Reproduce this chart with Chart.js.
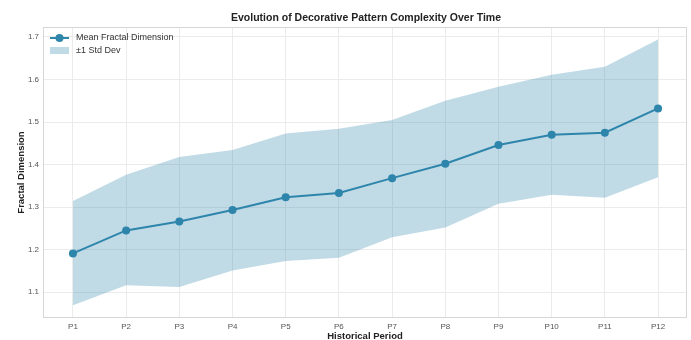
<!DOCTYPE html>
<html>
<head>
<meta charset="utf-8">
<script src="https://cdn.jsdelivr.net/npm/chart.js@4"></script>
<style>
  html, body { margin: 0; padding: 0; background: #fff; }
  #wrap { width: 691px; height: 340px; }
</style>
</head>
<body>
<div id="wrap"><canvas id="chart" width="691" height="340"></canvas></div>
<script>
// chart data
const periods = ["P1", "P2", "P3", "P4", "P5", "P6", "P7", "P8", "P9", "P10", "P11", "P12"];
const meanValues = [1.191, 1.245, 1.266, 1.293, 1.323, 1.333, 1.368, 1.402, 1.446, 1.470, 1.475, 1.532];
const upperValues = [1.314, 1.376, 1.418, 1.434, 1.473, 1.484, 1.505, 1.550, 1.583, 1.611, 1.630, 1.694];
const lowerValues = [1.069, 1.116, 1.112, 1.151, 1.173, 1.181, 1.229, 1.252, 1.308, 1.329, 1.322, 1.370];
const yTicks = [1.1, 1.2, 1.3, 1.4, 1.5, 1.6, 1.7];

const FONT = "'Liberation Sans', Arial, sans-serif";
const lineColor = "#2E86AB";
const bandColor = "rgba(46, 134, 171, 0.3)";

const toPoints = (vals) => vals.map((v, i) => ({ x: i + 1, y: v }));

// title, axis titles, plot frame and legend drawn by hand
const decorations = {
  id: "decorations",
  beforeDatasetsDraw(chart) {
    const { ctx, chartArea: a } = chart;
    ctx.save();
    ctx.strokeStyle = "#d6d6d6";
    ctx.lineWidth = 1;
    ctx.strokeRect(a.left + 0.5, a.top + 0.5, a.right - a.left - 1, a.bottom - a.top - 1);
    ctx.restore();
  },
  afterDraw(chart) {
    const { ctx, chartArea: a } = chart;
    ctx.save();
    ctx.fillStyle = "#222";
    ctx.textAlign = "center";
    ctx.textBaseline = "middle";
    ctx.font = "bold 10.5px " + FONT;
    ctx.fillText("Evolution of Decorative Pattern Complexity Over Time", 366, 18);

    ctx.font = "bold 9.5px " + FONT;
    ctx.fillText("Historical Period", (a.left + a.right) / 2, 336);
    ctx.save();
    ctx.translate(21, (a.top + a.bottom) / 2);
    ctx.rotate(-Math.PI / 2);
    ctx.fillText("Fractal Dimension", 0, 0);
    ctx.restore();

    // legend
    const lx = a.left + 7, ly = a.top + 11;
    ctx.strokeStyle = lineColor;
    ctx.lineWidth = 2;
    ctx.beginPath();
    ctx.moveTo(lx, ly);
    ctx.lineTo(lx + 19, ly);
    ctx.stroke();
    ctx.fillStyle = lineColor;
    ctx.beginPath();
    ctx.arc(lx + 9.5, ly, 4, 0, Math.PI * 2);
    ctx.fill();
    ctx.fillStyle = bandColor;
    ctx.fillRect(lx, ly + 9, 19, 7);
    ctx.fillStyle = "#333";
    ctx.font = "9px " + FONT;
    ctx.textAlign = "left";
    ctx.fillText("Mean Fractal Dimension", lx + 26, ly);
    ctx.fillText("\u00b11 Std Dev", lx + 26, ly + 13);
    ctx.restore();
  }
};

new Chart(document.getElementById("chart"), {
  type: "line",
  data: {
    datasets: [
      {
        label: "upper",
        data: toPoints(upperValues),
        borderWidth: 0,
        pointRadius: 0,
        backgroundColor: bandColor,
        fill: "+1",
        tension: 0,
      },
      {
        label: "lower",
        data: toPoints(lowerValues),
        borderWidth: 0,
        pointRadius: 0,
        fill: false,
        tension: 0,
      },
      {
        label: "Mean Fractal Dimension",
        data: toPoints(meanValues),
        borderColor: lineColor,
        backgroundColor: lineColor,
        borderWidth: 2,
        pointRadius: 4,
        pointBorderWidth: 0,
        fill: false,
        tension: 0,
      },
    ],
  },
  options: {
    responsive: false,
    animation: false,
    layout: { padding: { top: 27, right: 3, left: 0, bottom: 0 } },
    plugins: {
      legend: { display: false },
      title: { display: false },
      tooltip: { enabled: false },
    },
    scales: {
      x: {
        type: "linear",
        min: 0.437,
        max: 12.544,
        afterBuildTicks: (axis) => {
          axis.ticks = periods.map((p, i) => ({ value: i + 1 }));
        },
        afterFit: (axis) => { axis.height = 22; },
        grid: { color: "#ebebeb", drawTicks: false },
        border: { display: false },
        ticks: {
          color: "#555",
          font: { family: FONT, size: 8 },
          padding: 4,
          maxRotation: 0,
          callback: (v) => periods[v - 1],
        },
      },
      y: {
        min: 1.039,
        max: 1.7235,
        afterBuildTicks: (axis) => {
          axis.ticks = yTicks.map((v) => ({ value: v }));
        },
        afterFit: (axis) => { axis.width = 43; },
        grid: { color: "#ebebeb", drawTicks: false },
        border: { display: false },
        ticks: {
          color: "#555",
          font: { family: FONT, size: 8 },
          padding: 4,
          callback: (v) => v.toFixed(1),
        },
      },
    },
  },
  plugins: [decorations],
});
</script>
</body>
</html>
